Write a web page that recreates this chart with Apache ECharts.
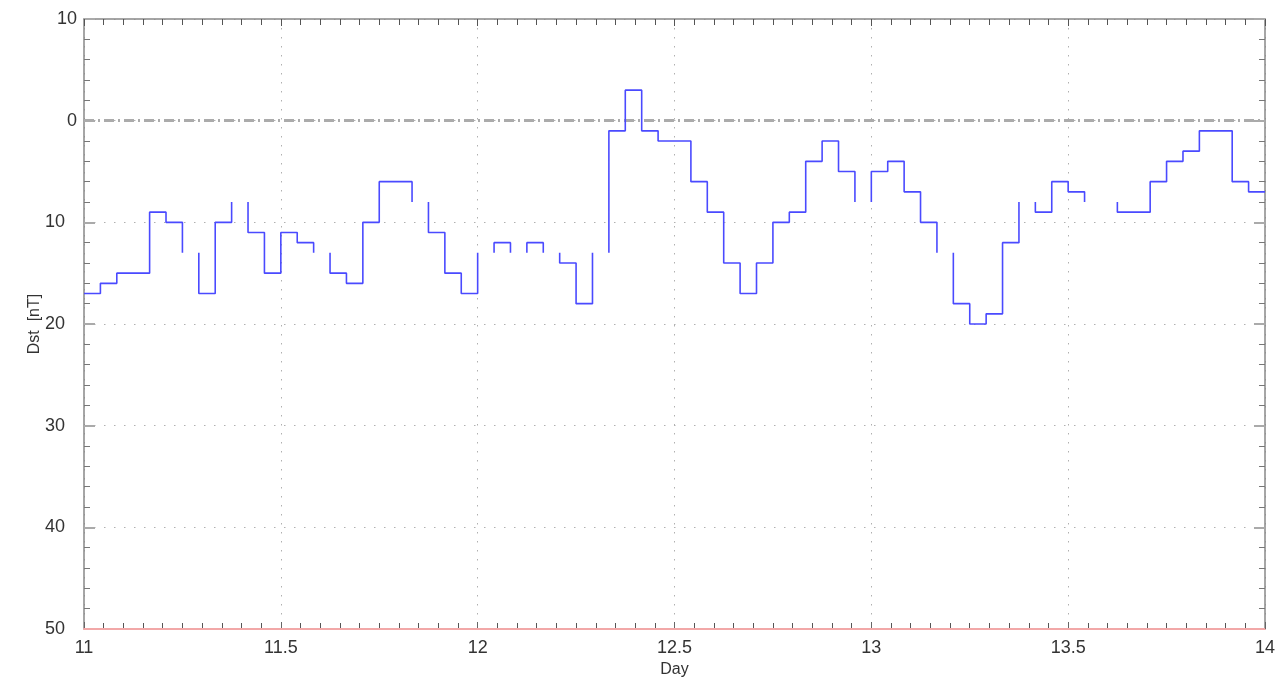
<!DOCTYPE html>
<html>
<head>
<meta charset="utf-8">
<script src="https://cdn.jsdelivr.net/npm/echarts@6/dist/echarts.min.js"></script>
<style>
  html, body { margin: 0; padding: 0; background: #ffffff; }
  #chart { width: 1278px; height: 683px; }
</style>
</head>
<body>
<div id="chart"></div>
<script>
// ---- data (hourly Dst values, nT) ----
const dayStart = 11;
const dayEnd = 14;
const hourlyDst = [
  -17, -16, -15, -15, -9, -10, -13, -17, -10, -8, -11, -15,
  -11, -12, -13, -15, -16, -10, -6, -6, -8, -11, -15, -17,
  -13, -12, -13, -12, -13, -14, -18, -13, -1, 3, -1, -2,
  -2, -6, -9, -14, -17, -14, -10, -9, -4, -2, -5, -8,
  -5, -4, -7, -10, -13, -18, -20, -19, -12, -8, -9, -6,
  -7, -8, -8, -9, -9, -6, -4, -3, -1, -1, -6, -7
];
// hours whose horizontal step is not drawn in the original plot
const undrawnHours = [6, 9, 14, 20, 24, 26, 28, 31, 47, 52, 57, 61, 62];
const xTicks = [11, 11.5, 12, 12.5, 13, 13.5, 14];
const yTicks = [10, 0, -10, -20, -30, -40, -50];

// ---- build step path from data ----
const hidden = new Set(undrawnHours);
const pts = [];
for (let i = 0; i < hourlyDst.length; i++) {
  if (hidden.has(i)) continue;
  const t0 = dayStart + i / 24, t1 = dayStart + (i + 1) / 24;
  if (i === 0) {
    pts.push([t0, hourlyDst[0]]);
  } else {
    if (hidden.has(i - 1)) pts.push([t0, '-']);
    pts.push([t0, hourlyDst[i - 1]]);
    pts.push([t0, hourlyDst[i]]);
  }
  pts.push([t1, hourlyDst[i]]);
  if (i < hourlyDst.length - 1 && hidden.has(i + 1)) pts.push([t1, hourlyDst[i + 1]]);
}

const FONT = 'Liberation Sans, Arial, Helvetica, sans-serif';
const chart = echarts.init(document.getElementById('chart'), null, { renderer: 'canvas' });

const labelStyle = { fontFamily: FONT, fontSize: 18, color: '#333' };

chart.setOption({
  animation: false,
  backgroundColor: '#ffffff',
  grid: { left: 84, right: 13, top: 19, bottom: 53, containLabel: false },
  xAxis: [
    {
      type: 'value', position: 'bottom', min: dayStart, max: dayEnd, interval: 0.5,
      name: 'Day', nameLocation: 'middle', nameGap: 33,
      nameTextStyle: { fontFamily: FONT, fontSize: 16, color: '#333' },
      axisLine: { show: true, onZero: false, lineStyle: { color: '#f2a8a8', width: 2 } },
      axisTick: { show: true, inside: true, length: 7, lineStyle: { color: '#666', width: 1 } },
      minorTick: { show: true, splitNumber: 10, length: 6, lineStyle: { color: '#555', width: 1 } },
      axisLabel: Object.assign({ margin: 10, formatter: v => xTicks.includes(v) ? String(v) : '' }, labelStyle),
      splitLine: { show: true, lineStyle: { color: '#b0b0b0', width: 1, type: [1.5, 7.5] } }
    },
    {
      type: 'value', position: 'top', min: dayStart, max: dayEnd, interval: 0.5,
      axisLine: { show: true, onZero: false, lineStyle: { color: '#888', width: 1.5 } },
      axisTick: { show: true, inside: true, length: 7, lineStyle: { color: '#555', width: 1 } },
      minorTick: { show: true, splitNumber: 10, length: 6, lineStyle: { color: '#555', width: 1 } },
      axisLabel: { show: false },
      splitLine: { show: false }
    }
  ],
  yAxis: [
    {
      type: 'value', position: 'left', min: -50, max: 10, interval: 10,
      name: 'Dst  [nT]', nameLocation: 'middle', nameGap: 41, nameRotate: 90,
      nameMoveOverlap: false,
      nameTextStyle: { fontFamily: FONT, fontSize: 16, color: '#333' },
      axisLine: { show: true, onZero: false, lineStyle: { color: '#888', width: 1.5 } },
      axisTick: { show: true, inside: true, length: 11, lineStyle: { color: '#aaa', width: 2 } },
      minorTick: { show: true, splitNumber: 5, length: 6, lineStyle: { color: '#777', width: 1 } },
      axisLabel: Object.assign({
        margin: 7,
        formatter: v => yTicks.includes(v) ? (v < 0 ? '{neg|' + Math.abs(v) + '}' : String(v)) : '',
        rich: { neg: { fontFamily: FONT, fontSize: 18, color: '#333', padding: [0, 12, 0, 0] } }
      }, labelStyle),
      splitLine: { show: true, lineStyle: { color: '#b0b0b0', width: 1, type: [1.5, 8.5] } }
    },
    {
      type: 'value', position: 'right', min: -50, max: 10, interval: 10,
      axisLine: { show: true, onZero: false, lineStyle: { color: '#888', width: 1.5 } },
      axisTick: { show: true, inside: true, length: 11, lineStyle: { color: '#aaa', width: 2 } },
      minorTick: { show: true, splitNumber: 5, length: 6, lineStyle: { color: '#777', width: 1 } },
      axisLabel: { show: false },
      splitLine: { show: false }
    }
  ],
  series: [
    {
      type: 'line',
      xAxisIndex: 0, yAxisIndex: 0,
      data: pts,
      showSymbol: false,
      connectNulls: false,
      lineStyle: { color: '#4a4aff', width: 1.6 },
      z: 5,
      markLine: {
        silent: true, symbol: ['none', 'none'], label: { show: false },
        data: [
          { yAxis: 0, lineStyle: { color: '#ababab', width: 3, type: [10, 4, 2, 4] } },
          { yAxis: -50, lineStyle: { color: '#f2a8a8', width: 2, type: 'solid' } }
        ]
      }
    }
  ]
});
</script>
</body>
</html>
